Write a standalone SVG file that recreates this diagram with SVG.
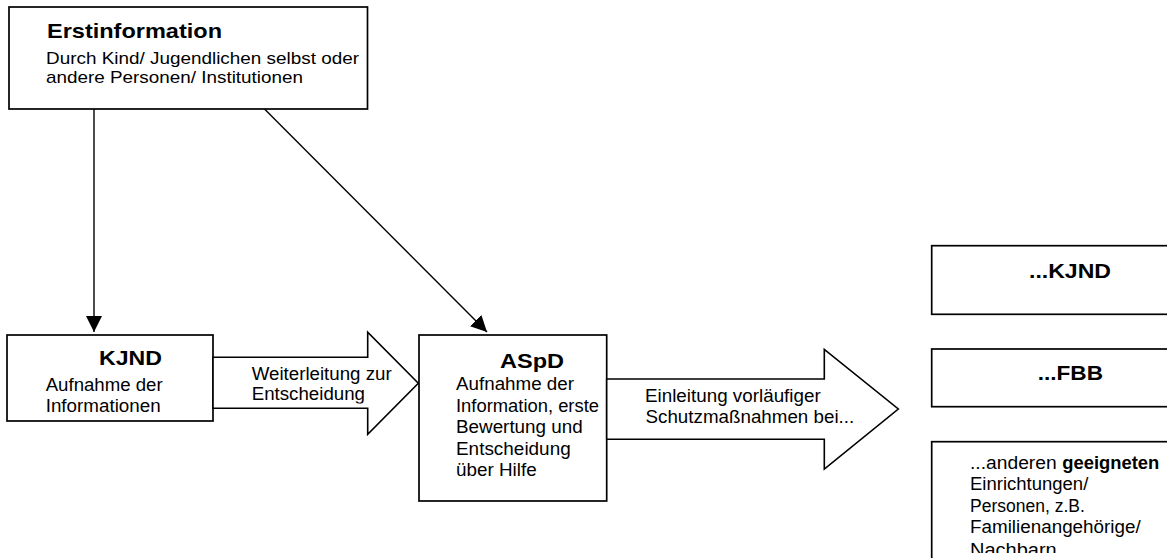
<svg xmlns="http://www.w3.org/2000/svg" width="1167" height="558" viewBox="0 0 1167 558">
<style>
.box{fill:#fff;stroke:#000;stroke-width:1.7}
.blk{fill:#fff;stroke:#000;stroke-width:1.6;stroke-linejoin:miter}
.ln{fill:none;stroke:#000;stroke-width:1.4}
text{font-family:"Liberation Sans",Arial,sans-serif;fill:#000}
.t{font-size:17.5px}
.s{font-size:17px}
.b{font-size:21px;font-weight:bold}
</style>
<defs>
<marker id="ah" markerUnits="userSpaceOnUse" markerWidth="16" markerHeight="16" viewBox="0 0 14 14" refX="14" refY="7" orient="auto">
<path d="M0,0 L14,7 L0,14 Z" fill="#000"/>
</marker>
<clipPath id="c1"><rect x="213" y="340" width="160" height="63.5"/></clipPath>
<clipPath id="c2"><rect x="900" y="430" width="267" height="123"/></clipPath>
</defs>
<rect width="1167" height="558" fill="#fff"/>

<g id="connectors">
<line class="ln" x1="94" y1="109" x2="94" y2="332" marker-end="url(#ah)"/>
<line class="ln" x1="264.5" y1="109" x2="487" y2="332" marker-end="url(#ah)"/>
</g>

<g id="erstinformation">
<rect class="box" x="9" y="7" width="358.5" height="102"/>
<text class="b" x="47" y="38" textLength="175" lengthAdjust="spacingAndGlyphs">Erstinformation</text>
<text class="s" x="46" y="63.5" textLength="313" lengthAdjust="spacingAndGlyphs">Durch Kind/ Jugendlichen selbst oder</text>
<text class="s" x="46" y="82.5" textLength="257" lengthAdjust="spacingAndGlyphs">andere Personen/ Institutionen</text>
</g>

<g id="kjnd">
<rect class="box" x="7" y="335" width="206" height="86"/>
<text class="b" x="99" y="365" textLength="63" lengthAdjust="spacingAndGlyphs">KJND</text>
<text class="t" x="45.7" y="390.7" textLength="117" lengthAdjust="spacingAndGlyphs">Aufnahme der</text>
<text class="t" x="45.7" y="411.7" textLength="115" lengthAdjust="spacingAndGlyphs">Informationen</text>
</g>

<g id="weiterleitung">
<polygon class="blk" points="213,357.3 367.7,357.3 367.7,332.3 418.3,383.3 367.7,434.3 367.7,408.3 213,408.3"/>
<text class="t" x="251.7" y="380" textLength="140" lengthAdjust="spacingAndGlyphs">Weiterleitung zur</text>
<text class="t" x="251.7" y="400" textLength="113.3" lengthAdjust="spacingAndGlyphs" clip-path="url(#c1)">Entscheidung</text>
</g>

<g id="aspd">
<rect class="box" x="419" y="335" width="187.7" height="166"/>
<text class="b" x="500" y="368.3" textLength="64" lengthAdjust="spacingAndGlyphs">ASpD</text>
<text class="t" x="456" y="390" textLength="118" lengthAdjust="spacingAndGlyphs">Aufnahme der</text>
<text class="t" x="456" y="411.7" textLength="143" lengthAdjust="spacingAndGlyphs">Information, erste</text>
<text class="t" x="456" y="433.3" textLength="126.7" lengthAdjust="spacingAndGlyphs">Bewertung und</text>
<text class="t" x="456" y="455" textLength="114.7" lengthAdjust="spacingAndGlyphs">Entscheidung</text>
<text class="t" x="456" y="476" textLength="80.7" lengthAdjust="spacingAndGlyphs">über Hilfe</text>
</g>

<g id="einleitung">
<polygon class="blk" points="606.7,379 824.3,379 824.3,349.3 898.3,409 824.3,469 824.3,439.3 606.7,439.3"/>
<text class="t" x="645" y="401.7" textLength="175.7" lengthAdjust="spacingAndGlyphs">Einleitung vorläufiger</text>
<text class="t" x="645.5" y="423.3" textLength="208.7" lengthAdjust="spacingAndGlyphs">Schutzmaßnahmen bei...</text>
</g>

<g id="ziel-kjnd">
<rect class="box" x="931.7" y="245.7" width="260" height="68.6"/>
<text class="b" x="1029" y="278.3" textLength="82" lengthAdjust="spacingAndGlyphs">...KJND</text>
</g>

<g id="ziel-fbb">
<rect class="box" x="931.7" y="349" width="260" height="57.7"/>
<text class="b" x="1037.7" y="380" textLength="65.3" lengthAdjust="spacingAndGlyphs">...FBB</text>
</g>

<g id="ziel-andere">
<rect class="box" x="931.7" y="441.7" width="260" height="140"/>
<g clip-path="url(#c2)">
<text class="t" x="970" y="468.5"><tspan textLength="86.7" lengthAdjust="spacingAndGlyphs">...anderen</tspan> <tspan x="1062.3" font-weight="bold" textLength="97" lengthAdjust="spacingAndGlyphs">geeigneten</tspan></text>
<text class="t" x="970" y="490" textLength="118.3" lengthAdjust="spacingAndGlyphs">Einrichtungen/</text>
<text class="t" x="970" y="511.5">Personen, z.B.</text>
<text class="t" x="970" y="533" textLength="170.7" lengthAdjust="spacingAndGlyphs">Familienangehörige/</text>
<text class="t" x="970" y="556" textLength="86.7" lengthAdjust="spacingAndGlyphs">Nachbarn</text>
</g>
</g>
</svg>
